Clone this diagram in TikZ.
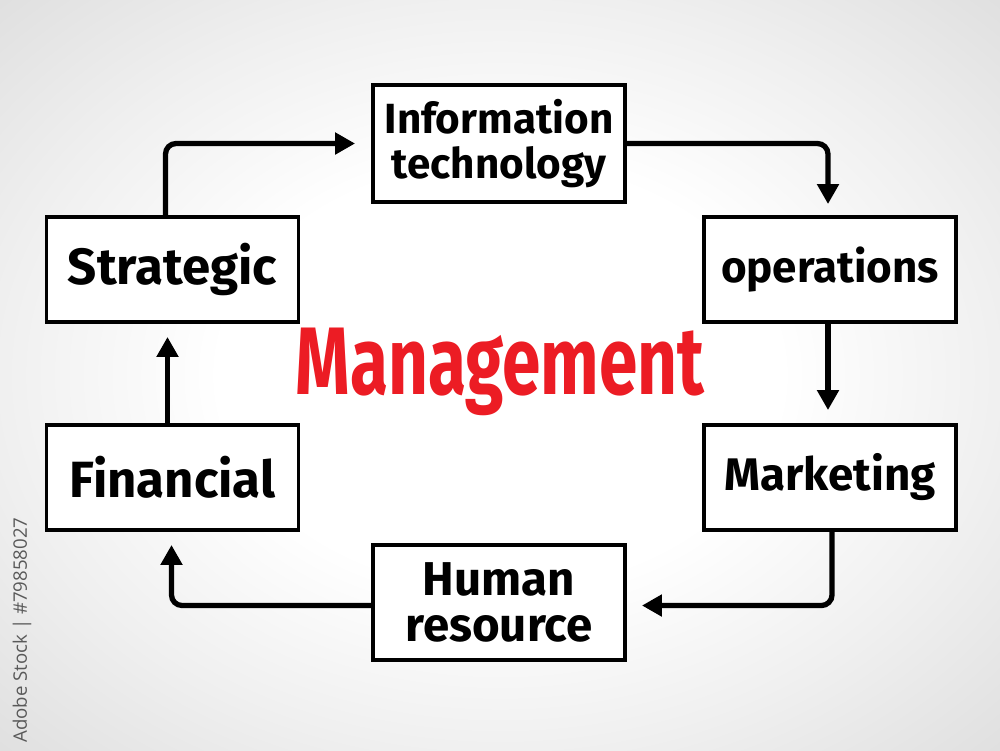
\documentclass[tikz,border=0pt]{standalone}
\usepackage{fontspec}
\setmainfont{Fira Sans}
\newfontfamily\markfont{Open Sans}
\usetikzlibrary{positioning,calc}
\usetikzlibrary{arrows.meta}
\definecolor{mgmtred}{RGB}{236,28,36}
\pgfdeclareradialshading{paper}{\pgfpoint{0bp}{0bp}}{rgb(0bp)=(1,1,1); rgb(14bp)=(1,1,1); rgb(25bp)=(0.94,0.94,0.94); rgb(40bp)=(0.85,0.85,0.85); rgb(50bp)=(0.81,0.81,0.81)}

\begin{document}
\begin{tikzpicture}[>={Triangle[length=0.2cm, width=0.21cm]}, thick,
	box/.style = {draw, line width=1.1pt, fill=white, inner sep=0pt, minimum width=2.52cm, minimum height=1.05cm, align=center, font=\bfseries\fontsize{13.5}{13}\selectfont},
	flow/.style = {->, line width=1.5pt, rounded corners=3pt}]
% background
\shade [shading=paper] (0, 0) rectangle (10, -7.5);
\useasboundingbox (0, 0) rectangle (10, -7.5);

% boxes
\node [box, minimum height=1.17cm, font=\bfseries\fontsize{12}{13}\selectfont] (it) at (4.99, -1.435) {Information\\technology};
\node [box, font=\bfseries\fontsize{14.5}{13}\selectfont] (strategic) at (1.725, -2.695) {Strategic};
\node [box, font=\bfseries\fontsize{12.5}{13}\selectfont] (ops) at (8.30, -2.695) {operations};
\node [box, font=\bfseries\fontsize{14.5}{13}\selectfont] (financial) at (1.725, -4.775) {Financial};
\node [box, font=\bfseries\fontsize{13}{13}\selectfont] (marketing) at (8.30, -4.775) {Marketing};
\node [box, minimum height=1.15cm] (hr) at (4.99, -6.025) {Human\\resource};

\node [text=mgmtred, font=\bfseries\fontsize{21}{21}\selectfont, xscale=0.94, yscale=1.3, transform shape] (mgmt) at (5.0, -3.72) {Management};

% arrows
\draw [flow, shorten >=0.16cm] ([xshift=-0.07cm]strategic.north) |- (it.west);
\draw [flow, shorten >=0.11cm] (it.east) -| ([xshift=-0.02cm]ops.north);
\draw [flow, shorten >=0.13cm] ([xshift=-0.02cm]ops.south) -- ([xshift=-0.02cm]marketing.north);
\draw [flow, shorten >=0.15cm] ([xshift=0.02cm]marketing.south) |- ([yshift=-0.03cm]hr.east);
\draw [flow, shorten >=0.13cm] ([yshift=-0.03cm]hr.west) -| ([xshift=-0.01cm]financial.south);
\draw [flow, shorten >=0.13cm] ([xshift=-0.05cm]financial.north) -- ([xshift=-0.05cm]strategic.south);

\node [rotate=90, text=black!65, font=\markfont\fontsize{5.3}{5.3}\selectfont] (stock) at (0.22, -6.3) {Adobe Stock | \#79858027};
\end{tikzpicture}
\end{document}
